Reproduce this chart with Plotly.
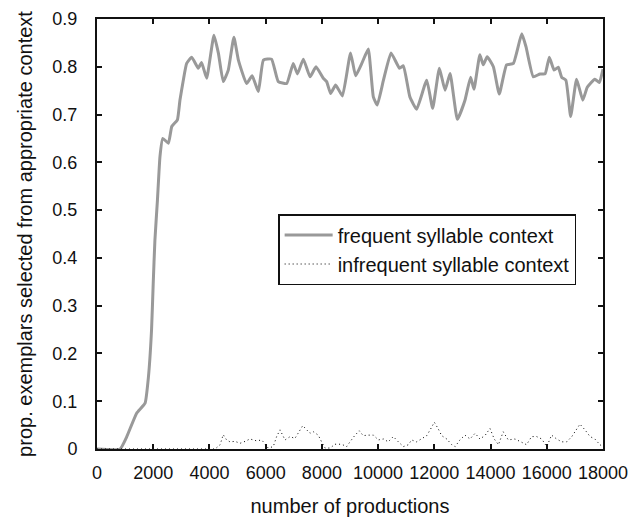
import plotly.graph_objects as go

# ---- data ----
freq_x = [0, 820, 1060, 1410, 1710, 1830, 1940, 2000, 2060, 2150, 2240, 2340, 2540, 2660,
          2860, 2950, 3070, 3190, 3370, 3600, 3720, 3900, 4160, 4320, 4490, 4670, 4870,
          5030, 5320, 5520, 5740, 5920, 6210, 6450, 6750, 6980, 7130, 7340, 7580, 7790,
          8050, 8170, 8310, 8490, 8730, 9020, 9200, 9420, 9650, 9830, 9970, 10190, 10460,
          10760, 10900, 11130, 11370, 11730, 11940, 12180, 12380, 12560, 12820, 13090,
          13290, 13410, 13620, 13740, 13880, 14100, 14310, 14570, 14810, 15110, 15260,
          15520, 15760, 15940, 16090, 16260, 16410, 16530, 16680, 16850, 17060, 17280,
          17440, 17710, 17870, 18000]
freq_y = [0, 0, 0.026, 0.075, 0.096, 0.151, 0.249, 0.347, 0.437, 0.521, 0.612, 0.650, 0.640,
          0.675, 0.689, 0.730, 0.772, 0.807, 0.820, 0.797, 0.809, 0.776, 0.866, 0.828, 0.769,
          0.793, 0.862, 0.814, 0.765, 0.781, 0.748, 0.814, 0.816, 0.769, 0.765, 0.807, 0.785,
          0.816, 0.779, 0.800, 0.776, 0.769, 0.744, 0.762, 0.739, 0.829, 0.781, 0.807, 0.837,
          0.737, 0.720, 0.772, 0.829, 0.797, 0.802, 0.737, 0.711, 0.772, 0.713, 0.797, 0.751,
          0.786, 0.690, 0.730, 0.778, 0.753, 0.825, 0.804, 0.821, 0.800, 0.743, 0.804, 0.807,
          0.869, 0.842, 0.779, 0.785, 0.785, 0.820, 0.793, 0.799, 0.778, 0.772, 0.696, 0.774,
          0.730, 0.757, 0.774, 0.767, 0.795]

infreq_x = [0, 4200, 4380, 4490, 4610, 4730, 4910, 5090, 5270, 5440, 5680, 5860, 6090, 6270,
            6390, 6510, 6690, 6870, 7040, 7160, 7320, 7460, 7580, 7700, 7870, 7990, 8110, 8290,
            8470, 8700, 8880, 9000, 9180, 9330, 9470, 9650, 9830, 10010, 10190, 10360, 10540,
            10720, 10900, 11080, 11190, 11370, 11550, 11730, 11850, 12000, 12140, 12260, 12440,
            12620, 12740, 12910, 13090, 13270, 13450, 13620, 13800, 13980, 14130, 14280, 14450,
            14630, 14870, 15050, 15280, 15460, 15640, 15820, 16000, 16170, 16350, 16530, 16710,
            16890, 17060, 17180, 17360, 17540, 17710, 17890, 18000]
infreq_y = [0, 0, 0.009, 0.030, 0.019, 0.015, 0.016, 0.012, 0.016, 0.021, 0.017, 0.019, 0.002,
            0.005, 0.026, 0.040, 0.019, 0.026, 0.022, 0.033, 0.049, 0.040, 0.033, 0.036, 0.029,
            0.015, 0.002, 0.002, 0.010, 0.010, 0.005, 0.015, 0.029, 0.038, 0.028, 0.029, 0.029,
            0.019, 0.021, 0.015, 0.026, 0.015, 0.005, 0.009, 0.019, 0.015, 0.021, 0.028, 0.040,
            0.056, 0.042, 0.028, 0.021, 0.009, 0.005, 0.019, 0.029, 0.021, 0.033, 0.021, 0.028,
            0.043, 0.021, 0.009, 0.036, 0.019, 0.021, 0.015, 0.009, 0.026, 0.026, 0.021, 0.005,
            0.029, 0.021, 0.015, 0.015, 0.026, 0.042, 0.052, 0.040, 0.026, 0.021, 0.009, 0.005]

x_ticks = [0, 2000, 4000, 6000, 8000, 10000, 12000, 14000, 16000, 18000]
x_tick_labels = ["0", "2000", "4000", "6000", "8000", "10000", "12000", "14000", "16000", "18000"]
y_ticks = [0, 0.1, 0.2, 0.3, 0.4, 0.5, 0.6, 0.7, 0.8, 0.9]
y_tick_labels = ["0", "0.1", "0.2", "0.3", "0.4", "0.5", "0.6", "0.7", "0.8", "0.9"]

series_names = ["frequent syllable context", "infrequent syllable context"]
x_title = "number of productions"
y_title = "prop. exemplars selected from appropriate context"

FONT = "Liberation Sans, Arial, sans-serif"

fig = go.Figure()
fig.add_trace(go.Scatter(
    x=freq_x, y=freq_y, mode="lines", name=series_names[0],
    line=dict(color="#999999", width=3, shape="spline", smoothing=0.4),
    legendgroup="a",
))
fig.add_trace(go.Scatter(
    x=infreq_x, y=infreq_y, mode="lines", name=series_names[1],
    line=dict(color="#000000", width=1, dash="1px,3px"),
    legendgroup="b",
))

axis_common = dict(
    showline=True, linecolor="#111111", linewidth=2, mirror="ticks",
    ticks="inside", ticklen=5, tickwidth=1.5, tickcolor="#111111",
    showgrid=False, zeroline=False, automargin=False,
    tickfont=dict(family=FONT, size=18, color="#111111"),
)

fig.update_xaxes(
    range=[0, 18000], tickvals=x_ticks, ticktext=x_tick_labels,
    title=dict(text=x_title, font=dict(family=FONT, size=20, color="#111111"), standoff=24),
    ticklabelstandoff=6,
    **axis_common,
)
fig.update_yaxes(
    range=[0, 0.9], tickvals=y_ticks, ticktext=y_tick_labels,
    title=dict(text=y_title, font=dict(family=FONT, size=20, color="#111111"), standoff=14),
    ticklabelstandoff=14,
    **axis_common,
)

fig.update_layout(
    width=643, height=517,
    margin=dict(l=97, r=40, t=19, b=68),
    paper_bgcolor="white", plot_bgcolor="white",
    font=dict(family=FONT, color="#111111"),
    legend=dict(
        x=0.358, y=0.5465, xanchor="left", yanchor="top",
        bordercolor="#111111", borderwidth=1.5, bgcolor="white",
        font=dict(family=FONT, size=20, color="#111111"),
        traceorder="grouped", tracegroupgap=0, itemwidth=48,
    ),
)

fig.write_html("out.html")
